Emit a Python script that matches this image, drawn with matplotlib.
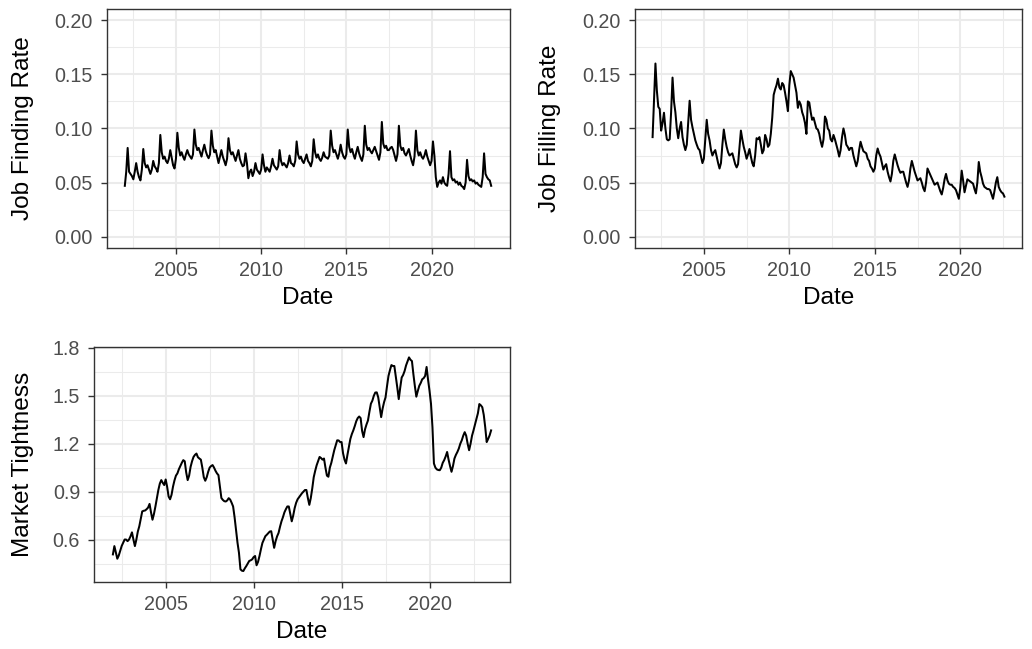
import matplotlib
matplotlib.use("Agg")
import matplotlib.pyplot as plt
import numpy as np
from matplotlib.ticker import FixedLocator, FormatStrFormatter

plt.rcParams['font.family'] = ['Liberation Sans', 'DejaVu Sans']

# ---------------- data (monthly, starting Jan 2002) ----------------
job_finding = [
    # 2002
    .047, .060, .082, .060, .058, .056, .053, .060, .068, .060, .055, .052,
    # 2003
    .062, .081, .068, .064, .066, .062, .058, .062, .070, .065, .063, .060,
    # 2004
    .068, .094, .078, .072, .074, .070, .068, .072, .080, .073, .066, .063,
    # 2005
    .072, .096, .082, .075, .078, .074, .071, .076, .080, .076, .074, .072,
    # 2006
    .076, .099, .085, .080, .082, .078, .074, .080, .085, .079, .075, .0725,
    # 2007
    .076, .098, .084, .078, .080, .074, .068, .074, .080, .074, .070, .066,
    # 2008
    .072, .091, .080, .076, .078, .074, .070, .075, .080, .072, .068, .065,
    # 2009
    .066, .077, .068, .054, .060, .062, .056, .060, .068, .062, .060, .058,
    # 2010
    .062, .076, .066, .060, .064, .062, .060, .065, .072, .066, .064, .062,
    # 2011
    .065, .080, .070, .066, .068, .066, .064, .068, .075, .068, .067, .065,
    # 2012
    .070, .088, .076, .072, .074, .070, .068, .072, .076, .070, .068, .065,
    # 2013
    .070, .090, .078, .073, .076, .072, .070, .073, .078, .074, .073, .072,
    # 2014
    .075, .098, .084, .078, .080, .076, .072, .077, .085, .078, .074, .072,
    # 2015
    .076, .099, .083, .078, .081, .076, .072, .078, .083, .077, .073, .070,
    # 2016
    .076, .1025, .085, .080, .082, .079, .077, .080, .083, .079, .075, .071,
    # 2017
    .078, .106, .086, .082, .084, .080, .080, .082, .083, .080, .075, .070,
    # 2018
    .076, .1025, .084, .080, .082, .077, .075, .078, .081, .075, .070, .066,
    # 2019
    .074, .098, .080, .075, .078, .074, .072, .075, .080, .074, .070, .066,
    # 2020
    .070, .088, .075, .055, .046, .050, .052, .049, .055, .050, .048, .047,
    # 2021
    .058, .079, .055, .052, .053, .050, .051, .048, .050, .047, .046, .044,
    # 2022
    .050, .071, .056, .052, .053, .051, .052, .049, .050, .048, .047, .046,
    # 2023
    .055, .077, .058, .055, .053, .052, .047,
]

job_filling = [
    # 2002
    .092, .125, .160, .135, .120, .118, .098, .105, .1145, .100, .090, .089,
    # 2003
    .090, .115, .147, .125, .115, .100, .091, .100, .106, .092, .085, .080,
    # 2004
    .085, .105, .1256, .108, .101, .095, .089, .085, .0815, .080, .074, .068,
    # 2005
    .072, .090, .108, .095, .089, .080, .075, .078, .080, .074, .068, .063,
    # 2006
    .068, .085, .099, .090, .083, .078, .075, .076, .077, .072, .067, .064,
    # 2007
    .067, .082, .098, .090, .083, .078, .072, .076, .081, .074, .068, .065,
    # 2008
    .075, .091, .090, .092, .085, .077, .080, .094, .090, .083, .085, .095,
    # 2009
    .110, .131, .136, .140, .146, .138, .136, .142, .140, .133, .125, .116,
    # 2010
    .140, .153, .150, .147, .140, .133, .119, .125, .122, .115, .111, .105,
    # 2011
    .095, .125, .124, .115, .108, .110, .105, .100, .099, .095, .088, .083,
    # 2012
    .090, .111, .108, .100, .098, .090, .088, .094, .090, .085, .080, .074,
    # 2013
    .080, .092, .100, .094, .085, .083, .080, .082, .082, .075, .070, .065,
    # 2014
    .070, .080, .0877, .083, .079, .078, .077, .072, .070, .065, .063, .060,
    # 2015
    .063, .075, .0815, .077, .074, .068, .062, .065, .067, .060, .055, .051,
    # 2016
    .058, .070, .076, .071, .066, .062, .059, .060, .060, .055, .050, .046,
    # 2017
    .052, .063, .070, .065, .060, .056, .052, .053, .054, .050, .045, .042,
    # 2018
    .050, .063, .060, .057, .054, .051, .048, .049, .050, .046, .042, .039,
    # 2019
    .045, .053, .058, .052, .049, .048, .048, .046, .045, .043, .039, .035,
    # 2020
    .045, .061, .052, .041, .047, .053, .052, .051, .050, .049, .044, .040,
    # 2021
    .050, .069, .060, .055, .049, .046, .045, .044, .044, .043, .039, .035,
    # 2022
    .042, .050, .055, .046, .043, .041, .040, .037,
]

market_tightness = [
    # 2002
    .507, .559, .520, .480, .500, .530, .560, .580, .600, .600, .590, .600,
    # 2003
    .620, .645, .600, .559, .600, .650, .683, .730, .776, .780, .782, .790,
    # 2004
    .800, .823, .770, .724, .760, .807, .860, .910, .950, .972, .955, .941,
    # 2005
    .976, .930, .869, .852, .880, .931, .970, 1.000, 1.014, 1.040, 1.060, 1.080,
    # 2006
    1.097, 1.090, 1.020, .972, 1.000, 1.055, 1.090, 1.117, 1.130, 1.138, 1.115, 1.107,
    # 2007
    1.100, 1.050, .990, .968, .990, 1.024, 1.050, 1.060, 1.066, 1.050, 1.030, 1.014,
    # 2008
    1.003, .930, .860, .848, .840, .838, .845, .859, .850, .830, .807, .740,
    # 2009
    .662, .580, .517, .414, .405, .403, .420, .434, .450, .466, .470, .476,
    # 2010
    .490, .497, .439, .460, .497, .540, .579, .600, .621, .630, .640, .650,
    # 2011
    .652, .600, .548, .590, .620, .641, .680, .714, .740, .770, .790, .807,
    # 2012
    .807, .760, .714, .750, .797, .830, .852, .865, .879, .890, .900, .910,
    # 2013
    .910, .860, .817, .860, .920, .990, 1.030, 1.065, 1.090, 1.117, 1.110, 1.100,
    # 2014
    1.107, 1.050, 1.000, .993, 1.050, 1.080, 1.120, 1.159, 1.190, 1.221, 1.220, 1.210,
    # 2015
    1.210, 1.140, 1.100, 1.076, 1.130, 1.179, 1.230, 1.260, 1.283, 1.310, 1.340, 1.360,
    # 2016
    1.370, 1.360, 1.280, 1.241, 1.290, 1.320, 1.345, 1.400, 1.450, 1.469, 1.500, 1.520,
    # 2017
    1.521, 1.490, 1.430, 1.366, 1.420, 1.460, 1.490, 1.560, 1.624, 1.660, 1.692, 1.686,
    # 2018
    1.686, 1.620, 1.552, 1.479, 1.550, 1.614, 1.630, 1.655, 1.690, 1.715, 1.740, 1.725,
    # 2019
    1.717, 1.634, 1.560, 1.494, 1.530, 1.562, 1.580, 1.603, 1.610, 1.624, 1.680, 1.600,
    # 2020
    1.531, 1.450, 1.303, 1.076, 1.050, 1.039, 1.035, 1.034, 1.050, 1.080, 1.097, 1.120,
    # 2021
    1.148, 1.100, 1.060, 1.024, 1.060, 1.107, 1.130, 1.148, 1.170, 1.200, 1.221, 1.250,
    # 2022
    1.272, 1.250, 1.200, 1.159, 1.200, 1.250, 1.283, 1.320, 1.355, 1.390, 1.448, 1.440,
    # 2023
    1.428, 1.380, 1.303, 1.210, 1.230, 1.252, 1.283,
]

start_year = 2002

def month_dates(n):
    return np.array([start_year + i / 12.0 for i in range(n)])

x_major = [2005, 2010, 2015, 2020]
x_minor = [2002.5, 2007.5, 2012.5, 2017.5, 2022.5]
rate_major = [0.00, 0.05, 0.10, 0.15, 0.20]
rate_minor = [0.025, 0.075, 0.125, 0.175]
mt_major = [0.6, 0.9, 1.2, 1.5, 1.8]
mt_minor = [0.45, 0.75, 1.05, 1.35, 1.65]

# ---------------- figure ----------------
W, H = 1032, 649
fig = plt.figure(figsize=(W / 100, H / 100), dpi=100)

def px_axes(left, right, top, bottom):
    return fig.add_axes([left / W, 1 - bottom / H, (right - left) / W, (bottom - top) / H])

GRID = '#EBEBEB'
BORDER = '#333333'
TICKC = '#4D4D4D'
TITLE_FS = 17.6
TICK_FS = 14.2

def style(ax, ymaj, ymin, fmt, ylabel, box, ylab_x, xlab_y):
    left, right, top, bottom = box
    ax.set_facecolor('white')
    ax.xaxis.set_major_locator(FixedLocator(x_major))
    ax.xaxis.set_minor_locator(FixedLocator(x_minor))
    ax.yaxis.set_major_locator(FixedLocator(ymaj))
    ax.yaxis.set_minor_locator(FixedLocator(ymin))
    ax.yaxis.set_major_formatter(FormatStrFormatter(fmt))
    ax.xaxis.set_major_formatter(FormatStrFormatter('%d'))
    ax.grid(which='major', color=GRID, linewidth=1.5, zorder=0)
    ax.grid(which='minor', color=GRID, linewidth=0.75, zorder=0)
    ax.set_axisbelow(True)
    for s in ax.spines.values():
        s.set_color(BORDER)
        s.set_linewidth(1.0)
    ax.tick_params(which='major', length=4.5, width=1.0, color=BORDER,
                   labelcolor=TICKC, labelsize=TICK_FS)
    ax.tick_params(axis='x', which='major', pad=5.0)
    ax.tick_params(axis='y', which='major', pad=5.5)
    ax.tick_params(which='minor', length=0)
    ax.set_xlabel('Date', fontsize=TITLE_FS, color='black', va='center')
    ax.set_ylabel(ylabel, fontsize=TITLE_FS, color='black', va='center')
    ax.yaxis.set_label_coords((ylab_x - left) / (right - left), 0.5)
    ax.xaxis.set_label_coords(0.5, (bottom - xlab_y) / (bottom - top))

box1 = (106.5, 509.5, 9.4, 247.5)
ax1 = px_axes(*box1)
ax1.plot(month_dates(len(job_finding)), job_finding, color='black', linewidth=1.45, zorder=3)
ax1.set_ylim(-0.01, 0.21)
ax1.margins(x=0.05)
style(ax1, rate_major, rate_minor, '%.2f', 'Job Finding Rate', box1, 23, 298)

box2 = (635, 1022, 9.4, 247.5)
ax2 = px_axes(*box2)
ax2.plot(month_dates(len(job_filling)), job_filling, color='black', linewidth=1.45, zorder=3)
ax2.set_ylim(-0.01, 0.21)
ax2.margins(x=0.05)
style(ax2, rate_major, rate_minor, '%.2f', 'Job Filling Rate', box2, 550, 298)

box3 = (94, 510, 346.7, 581.7)
ax3 = px_axes(*box3)
ax3.plot(month_dates(len(market_tightness)), market_tightness, color='black', linewidth=1.45, zorder=3)
ax3.margins(x=0.05, y=0.05)
style(ax3, mt_major, mt_minor, '%.1f', 'Market Tightness', box3, 23, 632)

fig.savefig('out.png', dpi=100, facecolor='white')
